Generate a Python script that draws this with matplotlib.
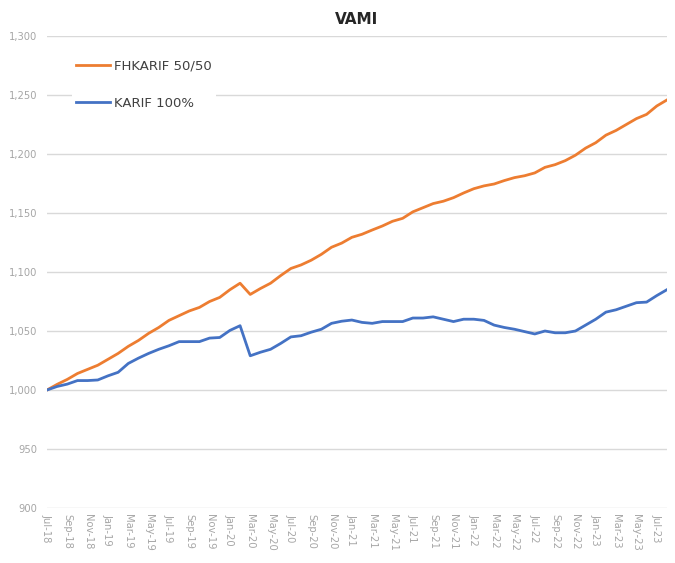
import matplotlib.pyplot as plt
import numpy as np
import pandas

# monthly VAMI values, Jul-18 .. Aug-23
months = pandas.date_range('2018-07-01', '2023-08-01', freq='MS')

fhkarif = [1000, 1004.8, 1009, 1014, 1017.5, 1021, 1026, 1031, 1037, 1042,
           1048, 1053, 1059, 1063, 1067, 1070, 1075, 1078.5, 1085, 1090.5,
           1081, 1086, 1090.5, 1097, 1103, 1106, 1110, 1115, 1121, 1124.5,
           1129.4, 1132, 1135.6, 1139, 1143, 1145.5, 1151, 1154.5, 1158, 1160,
           1163, 1167, 1170.6, 1173, 1174.6, 1177.5, 1180, 1181.6, 1184, 1188.7,
           1191, 1194.4, 1199, 1205, 1209.6, 1216, 1220, 1225, 1230, 1233.6,
           1240.7, 1245.8]

karif = [1000, 1003, 1005, 1008, 1008, 1008.5, 1012, 1015, 1022.5, 1027,
         1031, 1034.5, 1037.5, 1041, 1041, 1041, 1044, 1044.5, 1050.5, 1054.5,
         1029, 1032, 1034.5, 1039.5, 1045, 1046, 1049, 1051.5, 1056.5, 1058.3,
         1059.3, 1057.3, 1056.5, 1058, 1058, 1058, 1061, 1061, 1062, 1060,
         1058, 1060, 1060, 1059, 1055, 1053, 1051.5, 1049.5, 1047.5, 1050,
         1048.5, 1048.5, 1050, 1055, 1060, 1066, 1068, 1071, 1074, 1074.5,
         1080, 1085]

labels = [m.strftime('%b-%y') for m in months]
xval = np.arange(len(months))

fig = plt.figure(figsize=(6.75, 5.63), dpi=100)
ax = fig.add_axes([0.0696, 0.0977, 0.9184, 0.8383])

ax.plot(xval, fhkarif, color='#ED7D31', linewidth=2, label='FHKARIF 50/50')
ax.plot(xval, karif, color='#4472C4', linewidth=2, label='KARIF 100%')

ax.set_xlim(0, len(months) - 1)
ax.set_ylim(900, 1300)
ax.set_yticks(np.arange(900, 1301, 50))
ax.set_yticklabels(['{:,.0f}'.format(v) for v in np.arange(900, 1301, 50)])
ax.set_xticks(xval[::2])
ax.set_xticklabels(labels[::2], rotation=-90)

ax.grid(axis='y', color='#d9d9d9', linewidth=1)
ax.set_axisbelow(True)
for s in ax.spines.values():
    s.set_visible(False)
ax.tick_params(axis='both', length=0, colors='#a6a6a6', labelsize=7.2)
ax.tick_params(axis='y', pad=7)
ax.tick_params(axis='x', pad=4)

ax.set_title('VAMI', fontsize=11, fontweight='bold', color='#262626', pad=9)

leg = ax.legend(loc='upper left', bbox_to_anchor=(0.03, 0.972), frameon=True,
                facecolor='white', edgecolor='none', framealpha=1,
                fontsize=9.5, labelspacing=1.8, handlelength=2.6,
                handletextpad=0.3, borderpad=0.3)
for t in leg.get_texts():
    t.set_color('#404040')

plt.savefig('out.png', dpi=100)
